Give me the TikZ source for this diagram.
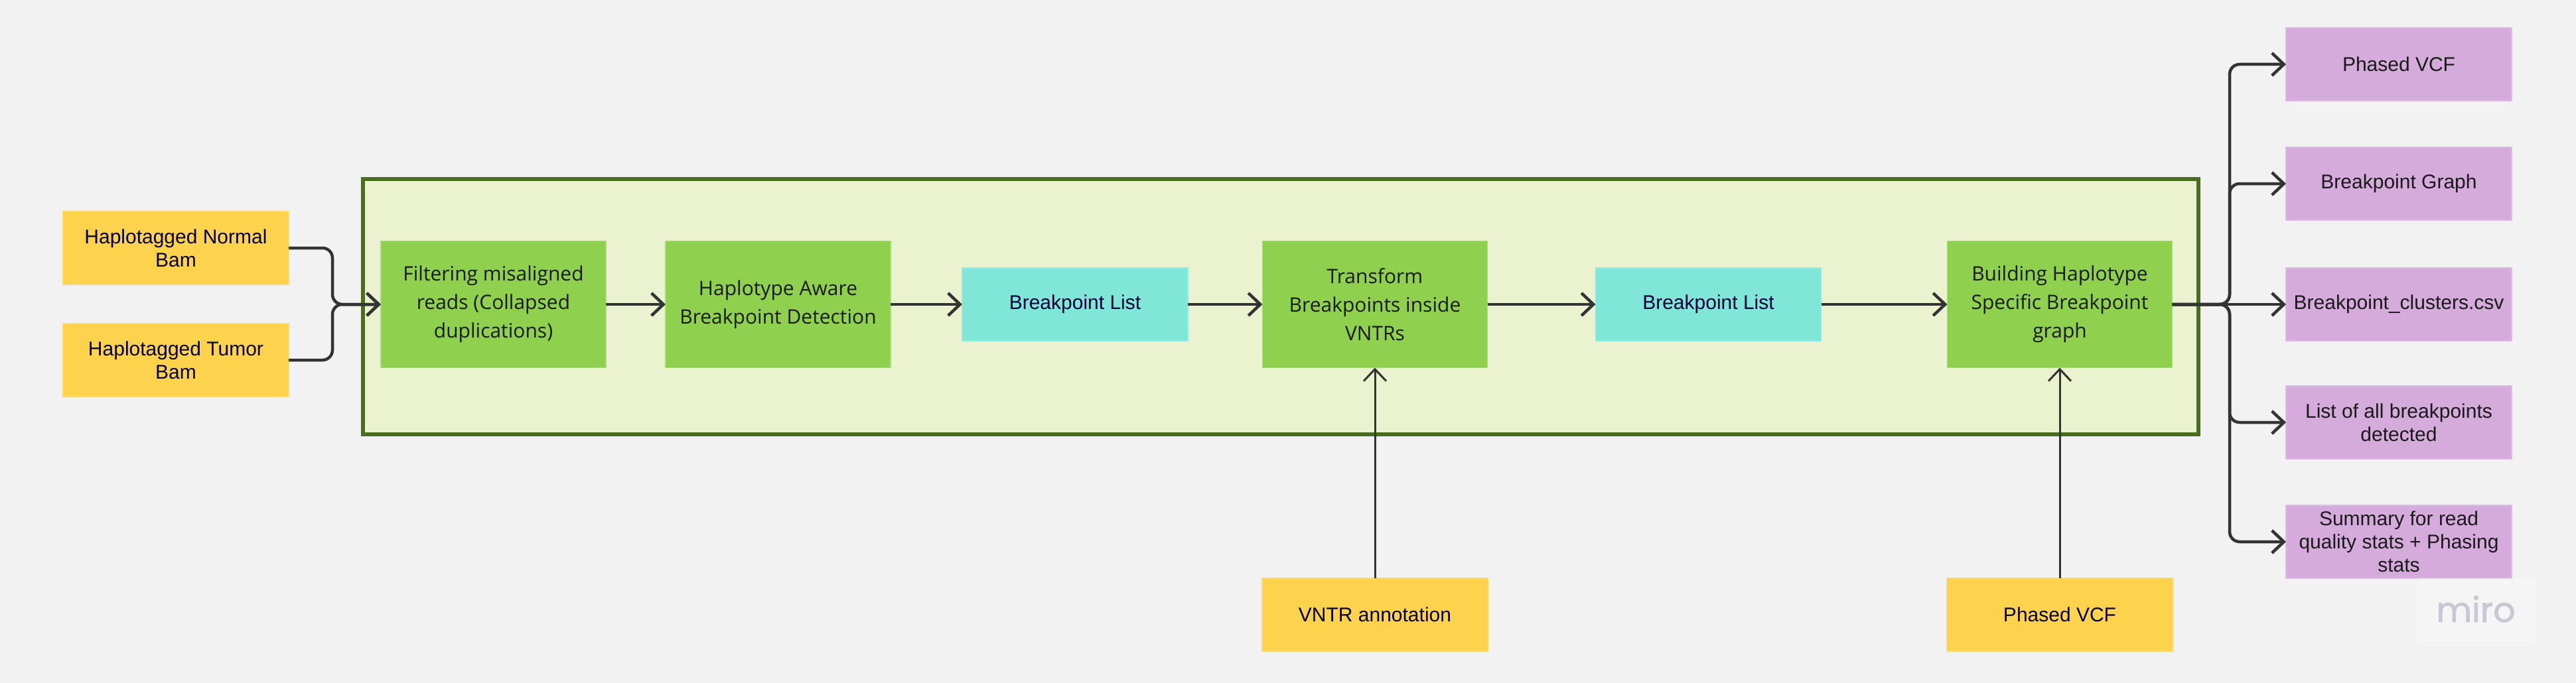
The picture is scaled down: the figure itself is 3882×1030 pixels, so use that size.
\documentclass[tikz,border=0pt]{standalone}
\usepackage{fontspec}
\setmainfont{Liberation Sans}
\newfontfamily\osans{Open Sans}
\newfontfamily\popfont[FakeBold=1.6]{Poppins}
\usetikzlibrary{arrows.meta}
\definecolor{bgc}{HTML}{F2F2F2}
\definecolor{yel}{HTML}{FDD34E}
\definecolor{yelb}{HTML}{FDDA6E}
\definecolor{grn}{HTML}{8FD14F}
\definecolor{grnb}{HTML}{A6DB78}
\definecolor{cyn}{HTML}{80E6D8}
\definecolor{cynb}{HTML}{96EADF}
\definecolor{pur}{HTML}{D5ABDC}
\definecolor{purb}{HTML}{DDBCE3}
\definecolor{frfill}{HTML}{EBF2CF}
\definecolor{frline}{HTML}{4A6E20}
\definecolor{lnc}{HTML}{333333}
\definecolor{navy}{HTML}{050038}
\definecolor{dk}{HTML}{1A1A1A}
\definecolor{logoc}{HTML}{C8C7D4}
\definecolor{logobg}{HTML}{F5F5F5}
\begin{document}
\begin{tikzpicture}[x=1pt,y=-1pt,
  base/.style={rectangle, inner sep=0pt, outer sep=0pt, align=center, line width=1.5pt},
  inbox/.style={base, fill=yel, draw=yelb, text=navy, minimum width=340pt, minimum height=110pt, font=\fontsize{30}{35}\selectfont},
  stepbox/.style={base, fill=grn, draw=grnb, text=dk, minimum width=339pt, minimum height=191pt, font=\osans\fontsize{30}{43}\selectfont},
  listbox/.style={base, fill=cyn, draw=cynb, text=navy, minimum width=340pt, minimum height=110pt, font=\fontsize{30}{35}\selectfont},
  outbox/.style={base, fill=pur, draw=purb, text=dk, minimum width=340pt, minimum height=110pt, font=\fontsize{30}{35}\selectfont},
  framebox/.style={rectangle, inner sep=0pt, outer sep=0pt, fill=frfill, draw=frline, line width=6pt},
  conn/.style={draw=lnc, line width=4.5pt, -{Straight Barb[length=18pt, width=34pt]}},
  vconn/.style={conn, line width=3pt}
]
\useasboundingbox[fill=bgc] (0,0) rectangle (3882,1030);

% frame
\node[framebox, minimum width=2766pt, minimum height=385pt] (frame) at (1930,462.5) {};

% input boxes
\node[inbox] (hn) at (265,374) {Haplotagged Normal\\Bam};
\node[inbox] (ht) at (265,543) {Haplotagged Tumor\\Bam};

% pipeline
\node[stepbox] (f1) at (743.5,459) {Filtering misaligned\\reads (Collapsed\\duplications)};
\node[stepbox] (f2) at (1172.5,459) {Haplotype Aware\\Breakpoint Detection};
\node[listbox] (c1) at (1620,459) {Breakpoint List};
\node[stepbox] (f3) at (2072,459) {Transform\\Breakpoints inside\\VNTRs};
\node[listbox] (c2) at (2574.5,459) {Breakpoint List};
\node[stepbox] (f4) at (3104,459) {Building Haplotype\\Specific Breakpoint\\graph};

% bottom inputs
\node[inbox] (vntr) at (2072,927) {VNTR annotation};
\node[inbox] (pvcf) at (3104,927) {Phased VCF};

% outputs
\node[outbox] (o1) at (3615,97) {Phased VCF};
\node[outbox] (o2) at (3615,277) {Breakpoint Graph};
\node[outbox] (o3) at (3615,459) {Breakpoint\_clusters.csv};
\node[outbox] (o4) at (3615,637) {List of all breakpoints\\detected};
\node[outbox] (o5) at (3615,817) {Summary for read\\quality stats + Phasing\\stats};

% merge / branch points
\coordinate (m1) at (501,459);
\coordinate (m2) at (3360,459);

% connectors
\draw[conn, rounded corners=15pt] (hn.east) -| (m1) -- (f1.west);
\draw[conn, rounded corners=15pt] (ht.east) -| (m1) -- (f1.west);
\draw[conn] (f1.east) -- (f2.west);
\draw[conn] (f2.east) -- (c1.west);
\draw[conn] (c1.east) -- (f3.west);
\draw[conn] (f3.east) -- (c2.west);
\draw[conn] (c2.east) -- (f4.west);
\draw[vconn] (vntr.north) -- (f3.south);
\draw[vconn] (pvcf.north) -- (f4.south);

\draw[conn, rounded corners=15pt] (f4.east) -- (m2) |- (o1.west);
\draw[conn, rounded corners=15pt] (f4.east) -- (m2) |- (o2.west);
\draw[conn] (f4.east) -- (o3.west);
\draw[conn, rounded corners=15pt] (f4.east) -- (m2) |- (o4.west);
\draw[conn, rounded corners=15pt] (f4.east) -- (m2) |- (o5.west);

% watermark
\node[rectangle, rounded corners=6pt, fill=logobg, minimum width=183pt, minimum height=95pt, inner sep=0pt] (logobox) at (3731,920) {};
\node[anchor=base, inner sep=0pt, text=logoc, font=\popfont\fontsize{52}{52}\selectfont] (logo) at (3731,938) {miro};
\end{tikzpicture}
\end{document}
